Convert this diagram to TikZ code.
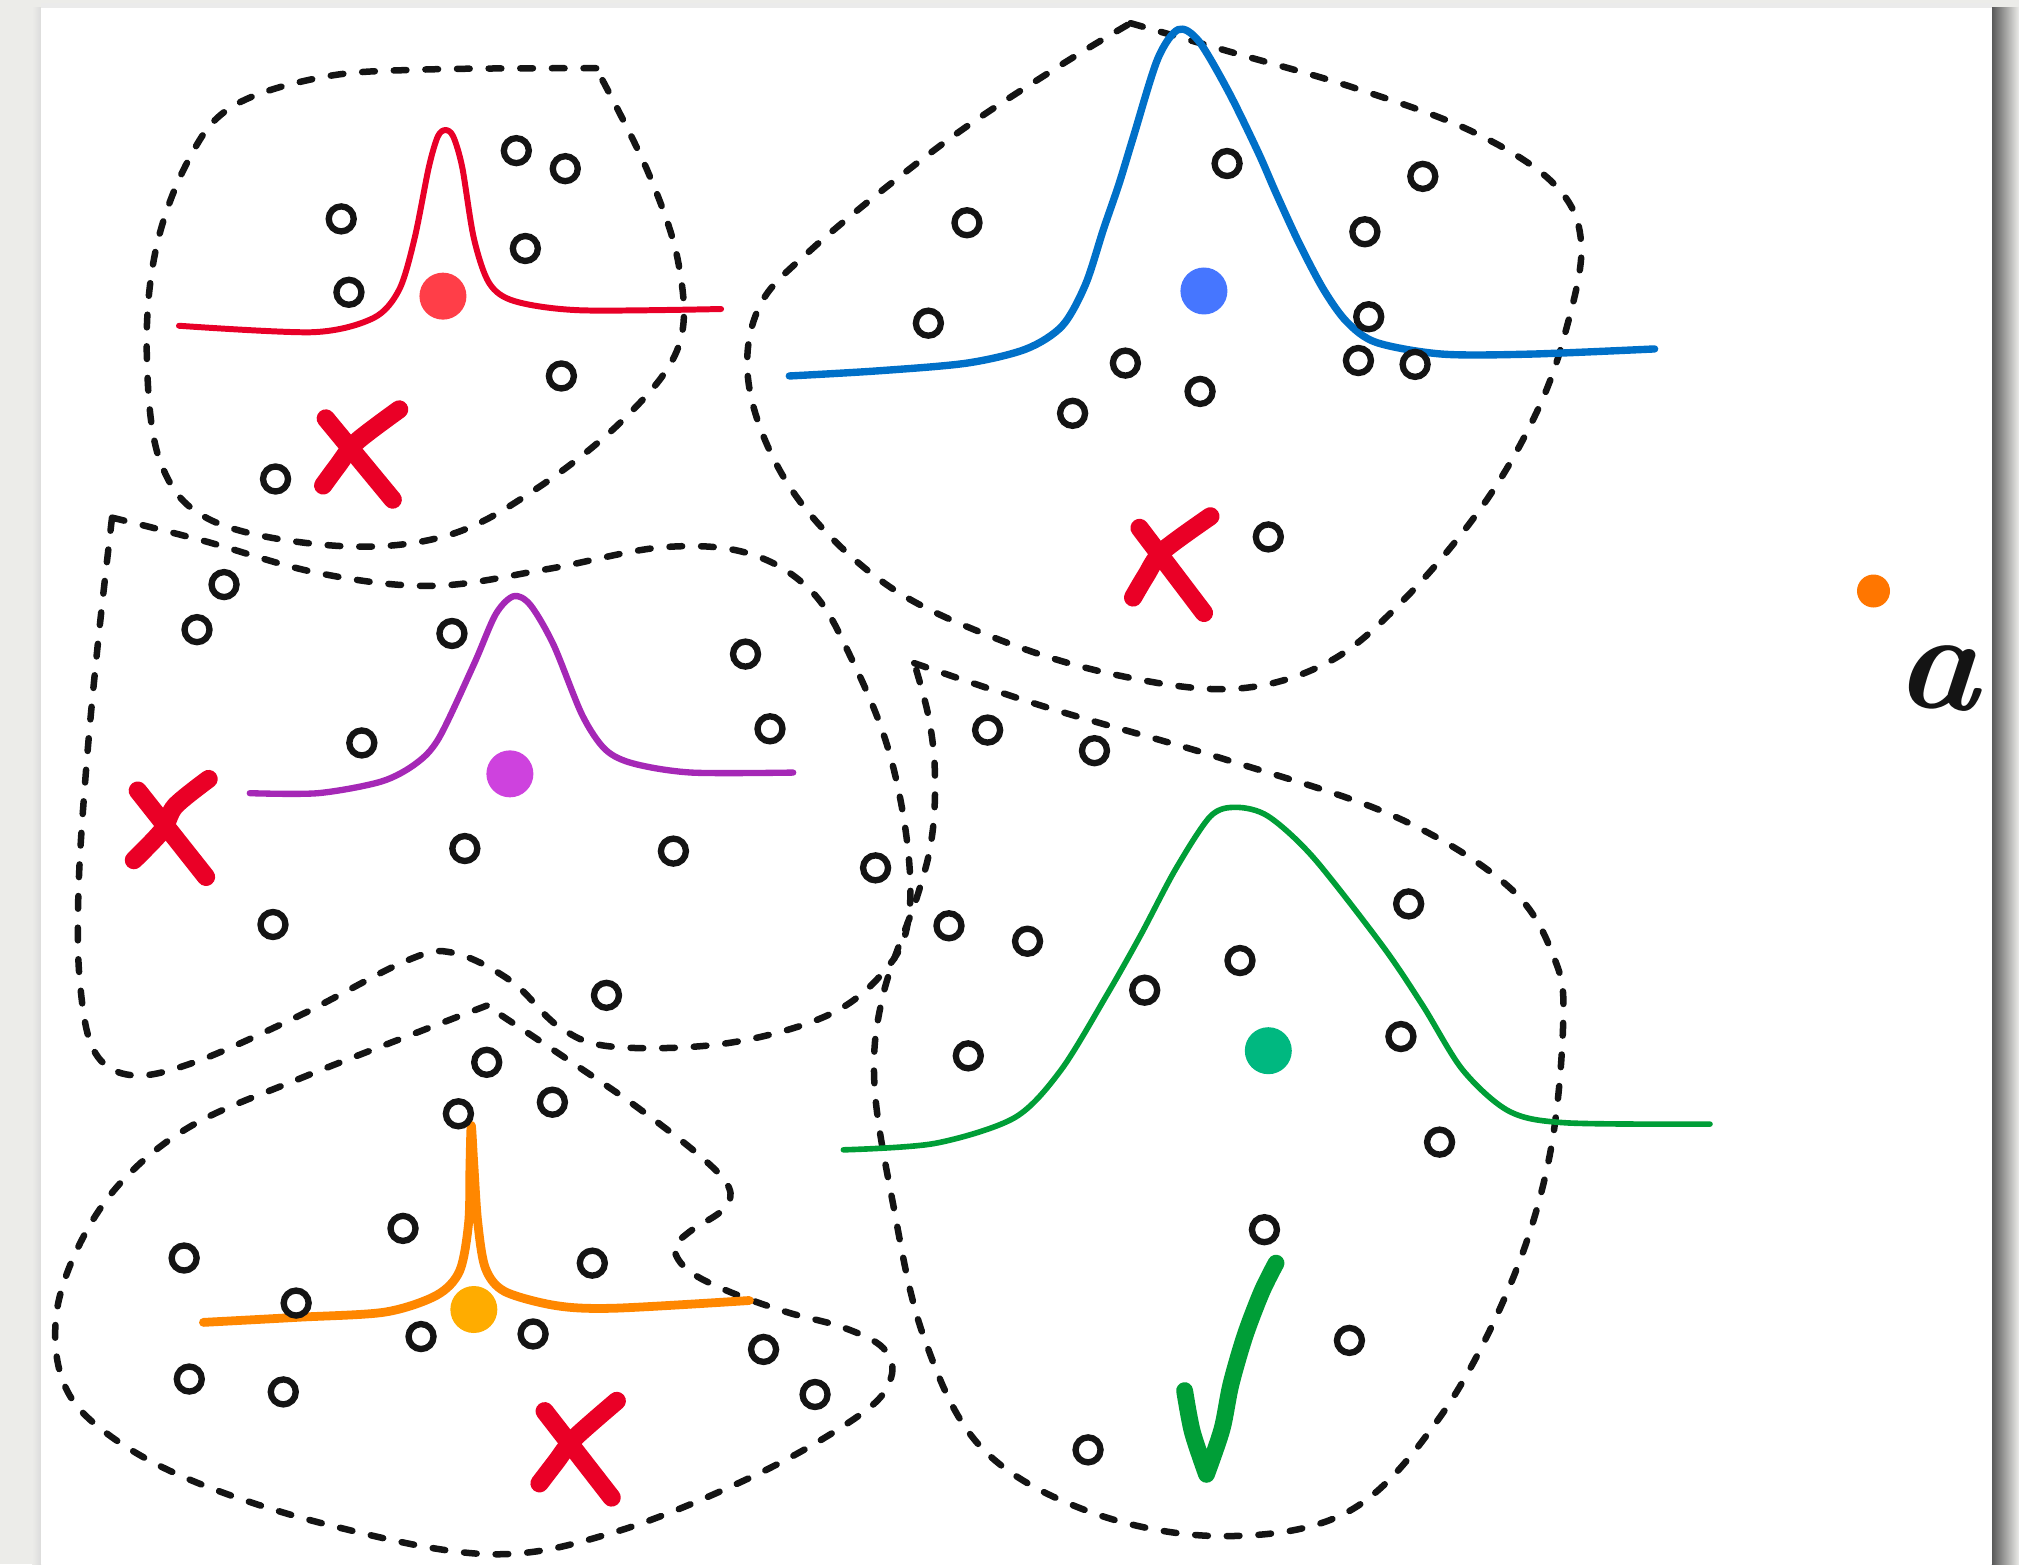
\documentclass[tikz,border=0pt]{standalone}
\usepackage{xcolor}
\usepackage{tikz}
\definecolor{paper}{RGB}{236,236,233}
\definecolor{ink}{RGB}{20,20,20}
\definecolor{crossred}{RGB}{234,0,38}
\definecolor{redpeak}{RGB}{232,0,40}
\definecolor{reddot}{RGB}{255,62,72}
\definecolor{bluepeak}{RGB}{0,112,200}
\definecolor{bluedot}{RGB}{70,118,255}
\definecolor{purplepeak}{RGB}{165,40,182}
\definecolor{purpledot}{RGB}{206,66,222}
\definecolor{orangepeak}{RGB}{255,135,0}
\definecolor{orangedot}{RGB}{255,172,0}
\definecolor{greenpeak}{RGB}{0,158,55}
\definecolor{greendot}{RGB}{0,184,128}
\definecolor{querydot}{RGB}{255,118,0}

\begin{document}
\begin{tikzpicture}[x=0.012876cm, y=-0.012876cm,
  region/.style={ink, line width=1.85pt, dash pattern=on 3.6pt off 5.4pt,
    line cap=round, line join=round},
  sample/.style={ink, line width=1.8pt},
  peak/.style={line width=1.8pt, line cap=round, line join=round},
  cross/.style={crossred, line width=5.2pt, line cap=round, line join=round}]
% Five dashed regions, each with a bump of its own colour over its
% centre dot and a few sample circles. Units are pixels of the sheet
% (y grows downwards). Only the green region gets the tick.
\def\rs{0.125cm}   % radius of a sample circle
\def\rc{0.235cm}   % radius of a centre dot
\useasboundingbox (0,0) rectangle (1568,1215);
\fill[paper] (0,0) rectangle (1568,1215);
\shade[left color=black!65, right color=paper] (1547,6) rectangle (1568,1215);
\shade[left color=paper, right color=black!14] (25,6) rectangle (32,1215);
\fill[black!8] (32,2) rectangle (1547,6);
\fill[white] (32,6) rectangle (1547,1215);

% Region 1 (red)
\draw[region] plot[smooth, tension=0.6] coordinates {(463,53) (330,54)
  (250,60) (180,83) (146,125) (121,194) (114,275) (125,360) (166,405)
  (263,424) (347,416) (416,380) (485,325) (527,269) (527,205) (503,133)
  (463,53)};
\draw[peak, redpeak, line width=1.7pt] plot[smooth, tension=0.5] coordinates
  {(139,253) (243,258) (290,247) (310,225) (322,185) (333,130) (340,106)
  (346,101) (352,106) (359,130) (368,185) (380,220) (400,234) (451,241)
  (560,240)};
\fill[reddot] (344,230) circle (\rc);
\foreach \x/\y in {265/170, 271/227, 401/117, 439/131, 408/193, 436/292,
  214/372}
  \draw[sample] (\x,\y) circle (\rs);
\draw[cross] (253,325) -- (305,388);
\draw[cross] plot[smooth] coordinates {(310,318) (277,343) (262,362) (251,377)};

% Region 2 (blue)
\draw[region] plot[smooth, tension=0.6] coordinates {(878,18) (958,41)
  (1051,68) (1143,102) (1207,143) (1228,189) (1216,257) (1193,321)
  (1152,392) (1092,464) (1032,514) (958,535) (866,524) (774,496)
  (687,453) (618,385) (583,307) (588,242) (631,193) (733,111) (820,53)
  (878,18)};
\draw[peak, bluepeak, line width=2.1pt] plot[smooth, tension=0.5] coordinates
  {(613,292) (682,288) (751,282) (797,271) (825,253) (843,221) (857,178)
  (869,143) (880,107) (899,46) (915,23) (931,32) (954,71) (977,118)
  (991,150) (1009,189) (1028,225) (1046,250) (1069,266) (1120,275)
  (1189,275) (1285,271)};
\fill[bluedot] (935,226) circle (\rc);
\foreach \x/\y in {751/173, 721/251, 953/127, 1105/137, 1060/180, 1063/246,
  1055/280, 1099/283, 874/282, 932/304, 833/321, 985/417}
  \draw[sample] (\x,\y) circle (\rs);
\draw[cross] (885,410) -- (935,476);
\draw[cross] plot[smooth] coordinates {(940,401) (903,428) (890,447) (880,464)};

% Region 3 (purple)
\draw[region] plot[smooth, tension=0.6] coordinates {(87,402) (158,420)
  (247,445) (336,455) (425,442) (515,425) (582,430) (631,460) (662,513)
  (689,579) (704,650) (706,710) (691,749) (646,787) (566,810) (477,813)
  (435,798) (397,762) (352,740) (316,746) (232,789) (151,825) (102,835)
  (73,816) (62,762) (61,690) (67,596) (76,500) (87,402)};
\draw[peak, purplepeak, line width=1.8pt] plot[smooth, tension=0.5] coordinates
  {(194,616) (247,616) (296,607) (323,593) (341,573) (368,516) (385,477)
  (399,463) (412,470) (430,501) (452,555) (470,582) (492,593) (537,600)
  (616,600)};
\fill[purpledot] (396,601) circle (\rc);
\foreach \x/\y in {174/454, 153/489, 351/492, 579/508, 598/566, 281/577,
  361/659, 523/661, 680/674, 212/718, 471/773}
  \draw[sample] (\x,\y) circle (\rs);
\draw[cross] (107,614) -- (160,681);
\draw[cross] plot[smooth] coordinates {(162,605) (136,626) (126,645) (104,668)};

% Region 4 (orange)
\draw[region] plot[smooth, tension=0.6] coordinates {(378,781) (321,803)
  (232,838) (151,873) (98,914) (64,962) (44,1019) (49,1073) (80,1111)
  (147,1149) (254,1184) (379,1207) (477,1190) (588,1145) (669,1098)
  (692,1070) (686,1047) (655,1031) (611,1019) (566,1003) (535,987)
  (524,970) (535,957) (562,939) (566,922) (544,898) (495,860) (450,829)
  (378,781)};
\draw[peak, orangepeak, line width=2.5pt] plot[smooth, tension=0.5] coordinates
  {(158,1027) (232,1023) (299,1019) (339,1006) (357,987) (364,949)
  (365,905) (366,874) (368,905) (371,949) (377,985) (392,1003) (432,1014)
  (477,1016) (582,1010)};
\fill[orangedot] (368,1017) circle (\rc);
\foreach \x/\y in {378/825, 356/865, 429/856, 143/977, 313/954, 460/981,
  230/1012, 327/1038, 414/1036, 593/1048, 633/1083, 147/1071, 220/1081}
  \draw[sample] (\x,\y) circle (\rs);
\draw[cross] (423,1096) -- (475,1163);
\draw[cross] plot[smooth] coordinates {(479,1088) (446,1117) (432,1135) (419,1152)};

% Region 5 (green)
\draw[region] plot[smooth, tension=0.6] coordinates {(710,515) (815,550)
  (949,589) (1083,634) (1172,689) (1207,744) (1214,794) (1203,900)
  (1172,1000) (1118,1101) (1047,1174) (949,1193) (846,1174) (762,1124)
  (717,1037) (693,932) (679,840) (686,772) (713,694) (724,648) (726,598)
  (721,556) (710,515)};
\draw[peak, greenpeak, line width=1.6pt] plot[smooth, tension=0.5] coordinates
  {(655,893) (726,888) (788,868) (824,831) (860,772) (886,726) (913,675)
  (940,634) (960,627) (985,634) (1020,666) (1074,735) (1105,781)
  (1136,831) (1172,863) (1216,872) (1328,873)};
\fill[greendot] (985,816) circle (\rc);
\foreach \x/\y in {767/567, 850/583, 737/719, 798/731, 1094/702, 963/746,
  889/769, 752/820, 1088/805, 1118/887, 982/955, 1048/1041, 845/1126}
  \draw[sample] (\x,\y) circle (\rs);
\draw[greenpeak, line width=4.8pt, line cap=round, line join=round]
  plot[smooth] coordinates {(920,1080) (926,1112) (937,1145)}
  plot[smooth] coordinates {(937,1145) (949,1110) (956,1075) (967,1037)
  (980,1003) (991,981)};

% Query point
\fill[querydot] (1455,459) circle (0.165cm);
\node[text=ink, font=\fontsize{40}{40}\selectfont\bfseries\itshape,
  inner sep=0pt, rotate=-4] (query) at (1505,526) {a};
\end{tikzpicture}
\end{document}
